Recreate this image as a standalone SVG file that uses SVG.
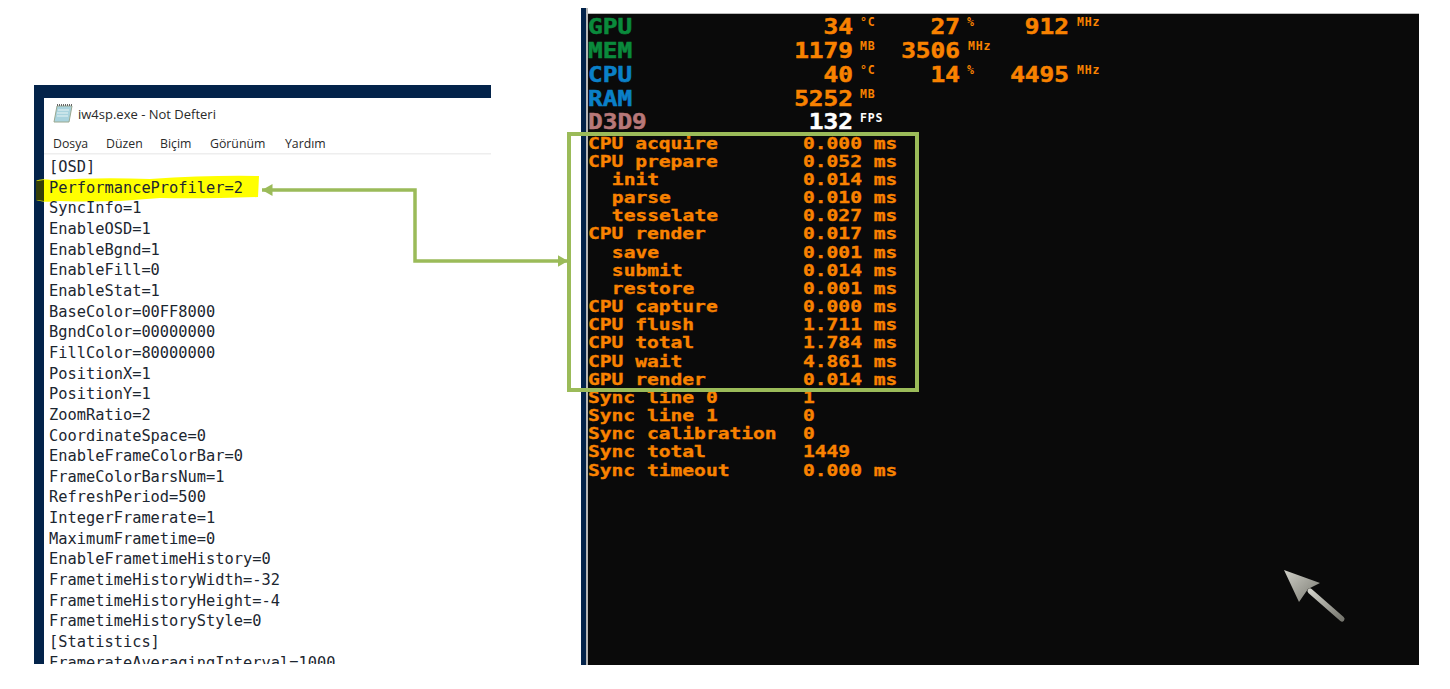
<svg xmlns="http://www.w3.org/2000/svg" width="1450" height="689" viewBox="0 0 1450 689">
<style>
.n{font-family:"DejaVu Sans Mono",monospace;font-size:15.35px;fill:#1c2630}
.m{font-family:"Open Sans","Liberation Sans",sans-serif;font-size:12.3px;fill:#2a2a2a}
.o{font-family:"DejaVu Sans Mono",monospace;font-weight:700;font-size:15.6px;fill:#f98200;stroke:#f98200;stroke-width:.35px}
.b{font-family:"DejaVu Sans Mono",monospace;font-weight:700;font-size:20.6px;fill:#f98200;stroke:#f98200;stroke-width:.5px}
.u{font-family:"DejaVu Sans Mono",monospace;font-weight:700;font-size:11.5px;letter-spacing:.8px;fill:#f98200}
.e{text-anchor:end}
.c{fill:none;stroke:#9bbb59;stroke-width:3.5}
</style>
<defs>
<marker id="ah" markerWidth="3" markerHeight="3.4" refX="3" refY="1.7" orient="auto-start-reverse" markerUnits="strokeWidth"><path d="M0 0L3 1.7L0 3.4z" fill="#9bbb59"/></marker>
<clipPath id="cl"><rect x="44" y="98" width="447" height="566"/></clipPath>
<linearGradient id="cg" x1="0" y1="0" x2="1" y2="1"><stop offset="0" stop-color="#d0d0c8"/><stop offset="1" stop-color="#77776f"/></linearGradient>
<filter id="bl" x="-10%" y="-10%" width="120%" height="120%"><feGaussianBlur stdDeviation=".7"/></filter>
</defs>
<rect width="1450" height="689" fill="#fff"/>
<g id="notepad">
<rect x="34" y="85" width="457" height="579" fill="#03234a"/>
<rect x="44" y="98" width="447" height="566" fill="#fff"/>
<g id="icon"><path d="M57 106H72L69 122H54z" fill="#a9d3de" stroke="#9aa890"/><path d="M57 105H72" stroke="#666" stroke-width="2" stroke-dasharray="1 1"/><path d="M58 110h11M57 113h11M57 116h11" stroke="#e8f4f4"/></g>
<text x="78" y="119" class="m" style="font-size:13px">iw4sp.exe - Not Defteri</text>
<text x="53" y="148" class="m">Dosya</text><text x="106" y="148" class="m">Düzen</text><text x="160" y="148" class="m">Biçim</text><text x="210" y="148" class="m">Görünüm</text><text x="285" y="148" class="m">Yardım</text>
<rect x="44" y="153" width="447" height="1.5" fill="#eee"/>
<path d="M36 181Q40 178 52 180Q100 177 150 179Q210 175 259 176L258 197Q200 199 160 198Q110 203 60 201Q44 203 36 200z" fill="#ffff00"/>
<path d="M36 181L44 180V201L36 200z" fill="#1f2a08" opacity=".9"/>
<g clip-path="url(#cl)">
<text x="49" y="172" class="n">[OSD]</text>
<text x="49" y="192.6" class="n">PerformanceProfiler=2</text>
<text x="49" y="213.3" class="n">SyncInfo=1</text>
<text x="49" y="234" class="n">EnableOSD=1</text>
<text x="49" y="254.6" class="n">EnableBgnd=1</text>
<text x="49" y="275.3" class="n">EnableFill=0</text>
<text x="49" y="295.9" class="n">EnableStat=1</text>
<text x="49" y="316.6" class="n">BaseColor=00FF8000</text>
<text x="49" y="337.2" class="n">BgndColor=00000000</text>
<text x="49" y="357.9" class="n">FillColor=80000000</text>
<text x="49" y="378.5" class="n">PositionX=1</text>
<text x="49" y="399.2" class="n">PositionY=1</text>
<text x="49" y="419.8" class="n">ZoomRatio=2</text>
<text x="49" y="440.5" class="n">CoordinateSpace=0</text>
<text x="49" y="461.1" class="n">EnableFrameColorBar=0</text>
<text x="49" y="481.8" class="n">FrameColorBarsNum=1</text>
<text x="49" y="502.4" class="n">RefreshPeriod=500</text>
<text x="49" y="523.1" class="n">IntegerFramerate=1</text>
<text x="49" y="543.7" class="n">MaximumFrametime=0</text>
<text x="49" y="564.4" class="n">EnableFrametimeHistory=0</text>
<text x="49" y="585" class="n">FrametimeHistoryWidth=-32</text>
<text x="49" y="605.7" class="n">FrametimeHistoryHeight=-4</text>
<text x="49" y="626.3" class="n">FrametimeHistoryStyle=0</text>
<text x="49" y="647" class="n">[Statistics]</text>
<text x="49" y="667.6" class="n">FramerateAveragingInterval=1000</text>
</g>
</g>
<g id="osd">
<rect x="581" y="8" width="5" height="657" fill="#03234a"/>
<rect x="586" y="13" width="833" height="652" fill="#0a0a0a"/>
<rect x="586" y="8" width="2" height="657" fill="#b5b5b5"/>
<rect x="586" y="13" width="833" height="1" fill="#bbb"/>
<g id="osd-top" transform="scale(1.186,1)">
<text x="495.8" y="33.7" class="b" style="fill:#0a8a3c;stroke:#0a8a3c">GPU</text><text x="495.8" y="57.7" class="b" style="fill:#0a8a3c;stroke:#0a8a3c">MEM</text><text x="495.8" y="81.7" class="b" style="fill:#0a80c8;stroke:#0a80c8">CPU</text><text x="495.8" y="105.7" class="b" style="fill:#0a80c8;stroke:#0a80c8">RAM</text><text x="495.8" y="128.7" class="b" style="fill:#b87878;stroke:#b87878">D3D9</text>
<text x="719.2" y="33.7" class="b e">34</text><text x="719.2" y="57.7" class="b e">1179</text><text x="719.2" y="81.7" class="b e">40</text><text x="719.2" y="105.7" class="b e">5252</text><text x="719.2" y="128.7" class="b e" style="fill:#fff;stroke:#fff">132</text>
<text x="809.4" y="33.7" class="b e">27</text><text x="809.4" y="57.7" class="b e">3506</text><text x="809.4" y="81.7" class="b e">14</text>
<text x="901.3" y="33.7" class="b e">912</text><text x="901.3" y="81.7" class="b e">4495</text>
</g>
<g id="osd-units">
<text x="860" y="26" class="u">°C</text><text x="860" y="50" class="u">MB</text><text x="860" y="74" class="u">°C</text><text x="860" y="98" class="u">MB</text><text x="860" y="122" class="u" style="fill:#fff">FPS</text>
<text x="967" y="26" class="u">%</text><text x="968" y="50" class="u">MHz</text><text x="967" y="74" class="u">%</text>
<text x="1077" y="26" class="u">MHz</text><text x="1077" y="74" class="u">MHz</text>
</g>
<g id="osd-rows" transform="scale(1.2566,1)">
<text x="467.9" y="148.7" class="o">CPU acquire</text><text x="639" y="148.7" class="o">0.000 ms</text>
<text x="467.9" y="166.9" class="o">CPU prepare</text><text x="639" y="166.9" class="o">0.052 ms</text>
<text x="486.9" y="185" class="o">init</text><text x="639" y="185" class="o">0.014 ms</text>
<text x="486.9" y="203.2" class="o">parse</text><text x="639" y="203.2" class="o">0.010 ms</text>
<text x="486.9" y="221.4" class="o">tesselate</text><text x="639" y="221.4" class="o">0.027 ms</text>
<text x="467.9" y="239.5" class="o">CPU render</text><text x="639" y="239.5" class="o">0.017 ms</text>
<text x="486.9" y="257.7" class="o">save</text><text x="639" y="257.7" class="o">0.001 ms</text>
<text x="486.9" y="275.9" class="o">submit</text><text x="639" y="275.9" class="o">0.014 ms</text>
<text x="486.9" y="294" class="o">restore</text><text x="639" y="294" class="o">0.001 ms</text>
<text x="467.9" y="312.2" class="o">CPU capture</text><text x="639" y="312.2" class="o">0.000 ms</text>
<text x="467.9" y="330.4" class="o">CPU flush</text><text x="639" y="330.4" class="o">1.711 ms</text>
<text x="467.9" y="348.5" class="o">CPU total</text><text x="639" y="348.5" class="o">1.784 ms</text>
<text x="467.9" y="366.7" class="o">CPU wait</text><text x="639" y="366.7" class="o">4.861 ms</text>
<text x="467.9" y="384.9" class="o">GPU render</text><text x="639" y="384.9" class="o">0.014 ms</text>
<text x="467.9" y="403" class="o">Sync line 0</text><text x="639" y="403" class="o">1</text>
<text x="467.9" y="421.2" class="o">Sync line 1</text><text x="639" y="421.2" class="o">0</text>
<text x="467.9" y="439.4" class="o">Sync calibration</text><text x="639" y="439.4" class="o">0</text>
<text x="467.9" y="457.5" class="o">Sync total</text><text x="639" y="457.5" class="o">1449</text>
<text x="467.9" y="475.7" class="o">Sync timeout</text><text x="639" y="475.7" class="o">0.000 ms</text>
</g>
<g id="cursor" filter="url(#bl)"><path d="M1310 591L1342 619" stroke="url(#cg)" stroke-width="5" stroke-linecap="round"/><path d="M1284 570L1320 583L1308 589L1299 602z" fill="url(#cg)"/></g>
</g>
<g id="highlight-box"><rect x="569" y="134" width="348" height="256" fill="none" stroke="#9bbb59" stroke-width="4"/></g>
<g id="connectors"><path class="c" d="M262 190H415V261H568" marker-start="url(#ah)" marker-end="url(#ah)"/></g>
</svg>
